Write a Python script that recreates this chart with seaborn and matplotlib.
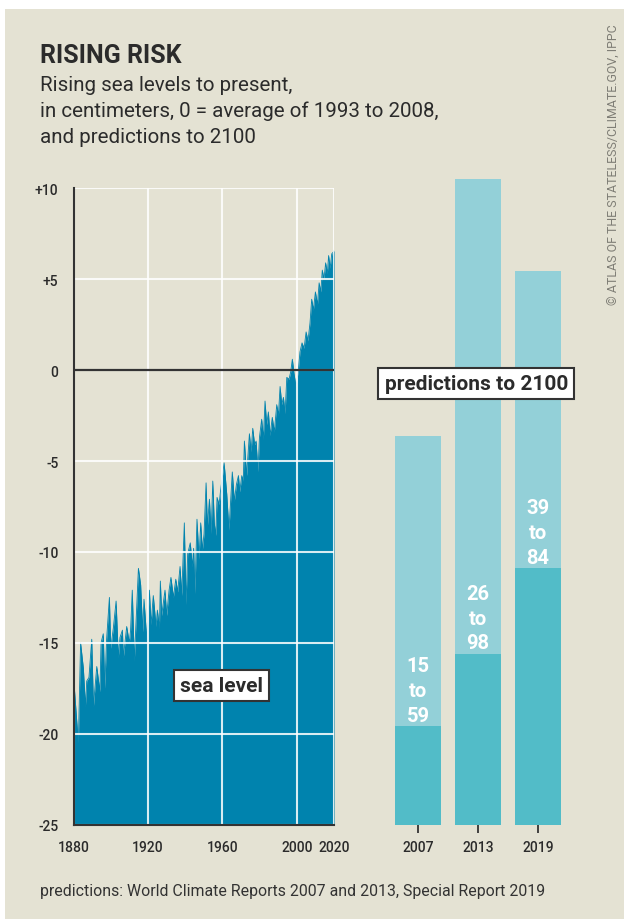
import matplotlib
matplotlib.use("Agg")
import matplotlib.pyplot as plt
from matplotlib.patches import Rectangle
import pandas as pd
import seaborn as sns

# ---- data -------------------------------------------------------------
# sea level in cm relative to the 1993-2008 mean (peaks and dips of the record)
years = [
    1880.0, 1882.5, 1883.7, 1885.2, 1886.3, 1887.0, 1888.2, 1889.7, 1890.6, 1892.4,
    1894.1, 1894.7, 1895.9, 1896.7, 1897.7, 1899.2, 1899.9, 1901.3, 1902.8, 1904.0,
    1904.9, 1906.2, 1906.7, 1908.5, 1909.9, 1910.6, 1911.5, 1912.6, 1914.8, 1916.0,
    1917.1, 1917.8, 1919.3, 1920.7, 1921.6, 1922.8, 1924.3, 1925.0, 1926.1, 1926.6,
    1927.3, 1929.1, 1930.0, 1931.3, 1932.3, 1933.6, 1934.9, 1935.9, 1937.2, 1938.1,
    1939.5, 1940.4, 1941.3, 1942.7, 1943.8, 1944.5, 1945.2, 1946.3, 1947.4, 1948.3,
    1949.2, 1950.1, 1951.2, 1951.9, 1953.0, 1953.9, 1954.8, 1955.6, 1956.4, 1957.1,
    1958.2, 1958.9, 1960.9, 1962.3, 1963.5, 1965.3, 1966.4, 1967.5, 1968.6, 1969.3,
    1970.4, 1971.2, 1971.8, 1973.0, 1974.5, 1975.4, 1976.3, 1977.3, 1978.1, 1979.1,
    1979.9, 1981.1, 1982.0, 1982.9, 1983.8, 1984.7, 1985.6, 1986.8, 1987.9, 1989.2,
    1990.1, 1991.0, 1991.9, 1992.8, 1993.7, 1994.6, 1995.8, 1996.7, 1997.6, 1998.5,
    1999.6, 2000.8, 2001.7, 2002.8, 2003.9, 2005.0, 2006.0, 2007.1, 2008.0, 2008.9,
    2010.0, 2011.1, 2012.0, 2012.9, 2013.7, 2014.6, 2015.5, 2016.4, 2017.1, 2017.9,
    2018.8, 2019.7, 2020.0,
]
levels = [
    -17.0, -20.5, -15.0, -16.4, -18.5, -17.1, -16.9, -14.8, -18.5, -16.3,
    -17.7, -15.0, -14.5, -17.5, -14.8, -12.5, -15.3, -14.2, -12.7, -15.8,
    -14.7, -14.3, -15.8, -14.1, -15.0, -14.3, -12.1, -16.0, -10.9, -11.8,
    -14.4, -12.6, -14.8, -12.1, -14.0, -12.4, -14.1, -13.2, -14.2, -11.6,
    -13.5, -12.1, -13.5, -12.1, -11.4, -12.5, -11.5, -12.2, -10.8, -12.4,
    -8.4, -12.9, -10.1, -9.5, -10.8, -9.8, -12.3, -8.2, -10.4, -8.4,
    -9.9, -9.0, -6.2, -8.6, -7.1, -9.0, -6.1, -8.4, -9.1, -7.0,
    -7.4, -6.7, -5.1, -6.8, -8.8, -5.6, -7.2, -6.3, -5.8, -6.7,
    -5.8, -6.1, -3.9, -5.8, -3.5, -4.5, -3.2, -4.1, -3.9, -5.6,
    -3.7, -2.7, -3.8, -1.7, -3.0, -2.3, -3.6, -2.6, -3.4, -1.9,
    -2.5, -0.9, -1.9, -1.5, -2.4, -0.4, -0.5, -0.1, 0.6, -0.2,
    -0.9, 0.0, 1.0, 1.5, 1.2, 2.1, 1.6, 2.6, 3.9, 3.3,
    4.3, 3.6, 4.8, 4.3, 5.5, 5.0, 5.9, 5.3, 6.3, 5.6,
    6.4, 6.5, 6.6,
]

# projected rise by 2100, in cm
report_years = ["2007", "2013", "2019"]
rise_low = [15, 26, 39]
rise_high = [59, 98, 84]

y_ticks = [10, 5, 0, -5, -10, -15, -20, -25]
y_tick_labels = ["+10", "+5", "0", "-5", "-10", "-15", "-20", "-25"]
x_ticks = [1880, 1920, 1960, 2000, 2020]

# ---- style ------------------------------------------------------------
sns.set_style("white")
plt.rcParams["font.family"] = ["Roboto", "DejaVu Sans"]

BG = "#e4e2d3"
SEA = "#0083ae"
LIGHT = "#93d0d8"
DARK = "#52bcc8"
INK = "#2b2b2b"

W, H = 624, 920
fig = plt.figure(figsize=(W / 100, H / 100), dpi=100, facecolor="white")
fig.patches.append(Rectangle((5 / W, 0), 1, (H - 10) / H, transform=fig.transFigure,
                             facecolor=BG, edgecolor="none", zorder=-10))


def fx(px):
    return px / W


def fy(py):
    return 1 - py / H


# ---- sea level panel --------------------------------------------------
ax = fig.add_axes([fx(73.7), fy(825.7), 260.3 / W, 636.4 / H])
ax.set_facecolor("none")
sea = pd.DataFrame({"year": years, "level": levels})
ax.fill_between(sea["year"], sea["level"], -25, color=SEA, lw=0, zorder=1)
sns.lineplot(data=sea, x="year", y="level", ax=ax, color=SEA, lw=0.6,
             estimator=None, zorder=1.5)
ax.set_xlim(1880, 2020)
ax.set_ylim(-25, 10)
ax.set_xticks(x_ticks)
ax.set_yticks(y_ticks)
ax.set_yticklabels(y_tick_labels)
ax.set_xlabel("")
ax.set_ylabel("")
ax.set_axisbelow(False)
ax.grid(True, color="white", lw=1.5, alpha=0.85)
ax.axhline(0, color="#333333", lw=1.6, zorder=3)
for side in ("top", "right"):
    ax.spines[side].set_visible(False)
for side in ("left", "bottom"):
    ax.spines[side].set_color("#333333")
    ax.spines[side].set_linewidth(1.5)
    ax.spines[side].set_zorder(4)
ax.tick_params(axis="both", direction="out", length=6, width=1.3, color="#333333",
               labelsize=10, labelcolor=INK, pad=5)
for lab in ax.get_xticklabels() + ax.get_yticklabels():
    lab.set_fontweight("medium")

ax.text(1959.5, -17.35, "sea level", ha="center", va="center", fontsize=15,
        fontweight="bold", color=INK, zorder=6,
        bbox=dict(boxstyle="square,pad=0.3", facecolor="white",
                  edgecolor="#333333", lw=1.5))

# ---- projection bars --------------------------------------------------
axb = fig.add_axes([fx(388), fy(826), 180 / W, 646 / H])
axb.set_facecolor("none")
proj = pd.DataFrame({"report": report_years, "low": rise_low, "high": rise_high})
sns.barplot(data=proj, x="report", y="high", ax=axb, color=LIGHT, saturation=1,
            width=0.767, errorbar=None, linewidth=0)
sns.barplot(data=proj, x="report", y="low", ax=axb, color=DARK, saturation=1,
            width=0.767, errorbar=None, linewidth=0)
axb.set_xlim(-0.5, 2.5)
axb.set_ylim(0, 98)
axb.set_xlabel("")
axb.set_ylabel("")
axb.set_yticks([])
for s in axb.spines.values():
    s.set_visible(False)
axb.tick_params(axis="x", direction="out", length=6, width=1.3, color="#333333",
                labelsize=10, labelcolor=INK, pad=5, bottom=True)
for lab in axb.get_xticklabels():
    lab.set_fontweight("medium")

for i, (lo, hi) in enumerate(zip(rise_low, rise_high)):
    axb.annotate(f"{lo}\nto\n{hi}", xy=(i, lo), xytext=(0, 1),
                 textcoords="offset points", ha="center", va="bottom",
                 color="white", fontsize=14.5, fontweight="bold", linespacing=1.38)

axb.text(0.97, 67.0, "predictions to 2100", ha="center", va="center", fontsize=15,
         fontweight="bold", color=INK, zorder=6,
         bbox=dict(boxstyle="square,pad=0.3", facecolor="white",
                   edgecolor="#333333", lw=1.5))

# ---- titles and notes -------------------------------------------------
fig.text(fx(40), fy(62.7), "RISING RISK", fontsize=18, fontweight="bold",
         color=INK, va="baseline")
for py, line in zip([90.7, 117.3, 143.3],
                    ["Rising sea levels to present,",
                     "in centimeters, 0 = average of 1993 to 2008,",
                     "and predictions to 2100"]):
    fig.text(fx(40), fy(py), line, fontsize=14.8, color=INK, va="baseline")

fig.text(fx(40), fy(896), "predictions: World Climate Reports 2007 and 2013, Special Report 2019",
         fontsize=11.45, color="#333333", va="baseline")
fig.text(fx(614), fy(165), "\u00a9 ATLAS OF THE STATELESS/CLIMATE.GOV, IPPC",
         rotation=90, ha="center", va="center", fontsize=8.9, color="#7f7e76")

fig.savefig("out.png", dpi=100, facecolor=fig.get_facecolor())
